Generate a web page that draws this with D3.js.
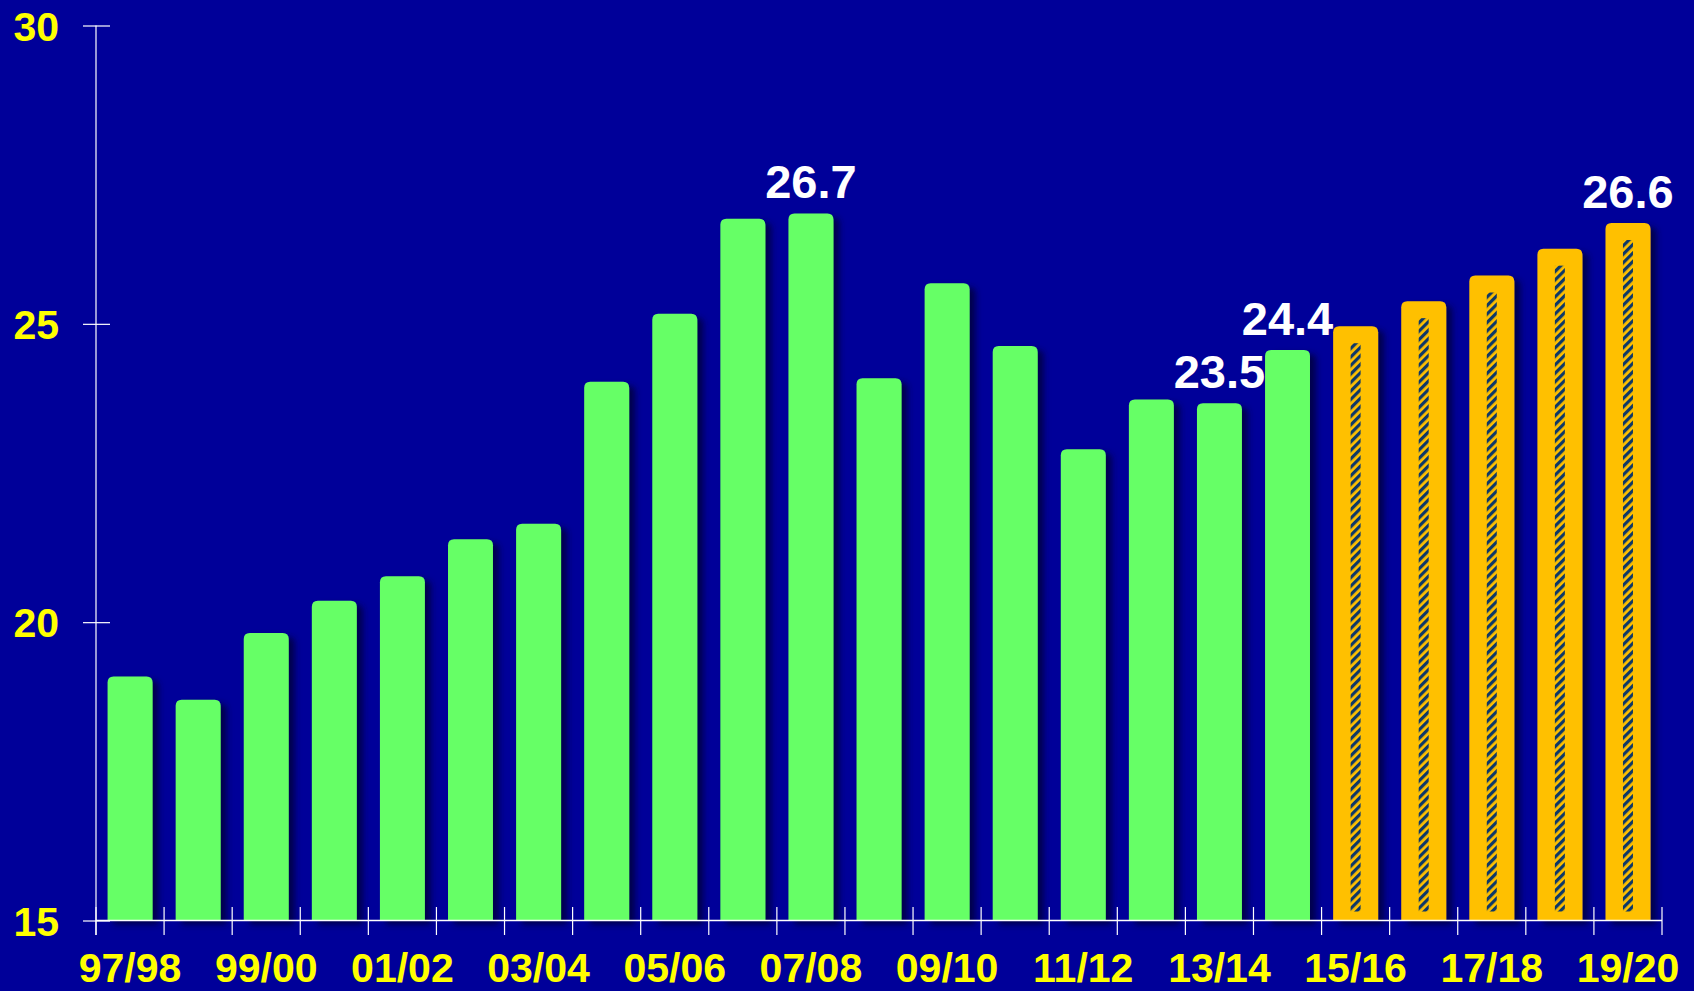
<!DOCTYPE html>
<html>
<head>
<meta charset="utf-8">
<script src="https://cdn.jsdelivr.net/npm/d3@7"></script>
<style>
  html, body { margin: 0; padding: 0; background: #000099; }
  svg { display: block; }
</style>
</head>
<body>
<svg id="chart" width="1694" height="991"></svg>
<script>
// ---- data ----
const categories = ["97/98","98/99","99/00","00/01","01/02","02/03","03/04","04/05","05/06","06/07","07/08","08/09",
                    "09/10","10/11","11/12","12/13","13/14","14/15","15/16","16/17","17/18","18/19","19/20"];
const actualValues = [19.09, 18.70, 19.82, 20.36, 20.77, 21.39, 21.65, 24.03, 25.17, 26.76, 26.85, 24.09,
                      25.68, 24.63, 22.90, 23.73, 23.67, 24.56];
const projectedValues = [24.96, 25.38, 25.81, 26.26, 26.69];
const yTicks = [15, 20, 25, 30];
const xTickLabels = ["97/98","99/00","01/02","03/04","05/06","07/08","09/10","11/12","13/14","15/16","17/18","19/20"];
const labelCategories = ["07/08", "13/14", "14/15", "19/20"];
const labelTexts = ["26.7", "23.5", "24.4", "26.6"];

(function () {
// ---- layout ----
const svg = d3.select("#chart");
const W = 1694, H = 991;
const mLeft = 96, mRight = 1662, mTop = 25.5, mBottom = 920.5;
const font = "'Liberation Sans', Arial, sans-serif";

svg.append("rect").attr("width", W).attr("height", H).attr("fill", "#000099");

const x = d3.scaleBand().domain(categories).range([mLeft, mRight]).paddingInner(0.34).paddingOuter(0.17);
const y = d3.scaleLinear().domain([15, 30]).range([mBottom, mTop]);

const bars = categories.map((c, i) => ({
  cat: c,
  value: i < actualValues.length ? actualValues[i] : projectedValues[i - actualValues.length],
  projected: i >= actualValues.length
}));

const defs = svg.append("defs");
const f = defs.append("filter").attr("id", "shadow").attr("x", "-30%").attr("y", "-10%").attr("width", "180%").attr("height", "130%");
f.append("feDropShadow").attr("dx", 6).attr("dy", 4).attr("stdDeviation", 3)
  .attr("flood-color", "#000033").attr("flood-opacity", 0.75);

const pat = defs.append("pattern").attr("id", "hatch").attr("patternUnits", "userSpaceOnUse")
  .attr("width", 6).attr("height", 6).attr("patternTransform", "rotate(45)");
pat.append("rect").attr("width", 6).attr("height", 6).attr("fill", "#FFC000");
pat.append("rect").attr("width", 3.2).attr("height", 6).attr("fill", "#0E3868");

function topRounded(x0, y0, w, h, r) {
  r = Math.min(r, w / 2, h);
  return `M${x0},${y0 + h}V${y0 + r}Q${x0},${y0} ${x0 + r},${y0}H${x0 + w - r}Q${x0 + w},${y0} ${x0 + w},${y0 + r}V${y0 + h}Z`;
}

const bw = x.bandwidth();
const gBars = svg.append("g");
gBars.selectAll("path.bar").data(bars).join("path")
  .attr("class", "bar")
  .attr("d", d => topRounded(x(d.cat), y(d.value), bw, mBottom - y(d.value), 6))
  .attr("fill", d => d.projected ? "#FFC000" : "#66FF66")
  .attr("filter", "url(#shadow)");

// hatch strips inside projected bars
const hw = 10;
gBars.selectAll("rect.hatch").data(bars.filter(d => d.projected)).join("rect")
  .attr("class", "hatch")
  .attr("x", d => x(d.cat) + bw / 2 - hw / 2)
  .attr("y", d => y(d.value) + 17)
  .attr("width", hw)
  .attr("height", d => mBottom - 9 - (y(d.value) + 17))
  .attr("fill", "url(#hatch)");

// ---- axes ----
const axisG = svg.append("g");
const yAxis = d3.axisLeft(y).tickValues(yTicks).tickSize(13).tickPadding(24).tickFormat(d3.format("d"));
const gy = axisG.append("g").attr("transform", `translate(${mLeft},0)`).call(yAxis);
gy.select(".domain").remove();
gy.selectAll(".tick line").attr("x1", 14).attr("stroke", "#ffffff").attr("stroke-width", 1.2);
gy.selectAll(".tick text").attr("fill", "#FFFF00").attr("font-family", font)
  .attr("font-weight", "bold").attr("font-size", 41).attr("dy", "0.36em");
axisG.append("line").attr("x1", mLeft).attr("x2", mLeft).attr("y1", mTop).attr("y2", mBottom + 14.5)
  .attr("stroke", "#ffffff").attr("stroke-width", 1.2);

axisG.append("line").attr("x1", mLeft).attr("x2", mRight).attr("y1", mBottom).attr("y2", mBottom)
  .attr("stroke", "#ffffff").attr("stroke-width", 1.5);
const step = x.step();
const boundaries = categories.map(c => x(c) - step * x.paddingInner() / 2).concat([mRight]);
axisG.selectAll("line.xtick").data(boundaries).join("line")
  .attr("class", "xtick")
  .attr("x1", d => d).attr("x2", d => d)
  .attr("y1", mBottom - 13.5).attr("y2", mBottom + 14.5)
  .attr("stroke", "#ffffff").attr("stroke-width", 1.2);
axisG.selectAll("text.xlabel").data(xTickLabels).join("text")
  .attr("class", "xlabel")
  .attr("x", d => x(d) + bw / 2)
  .attr("y", 982)
  .attr("text-anchor", "middle")
  .attr("fill", "#FFFF00").attr("font-family", font).attr("font-weight", "bold").attr("font-size", 41)
  .text(d => d);

// ---- value labels ----
svg.append("g").selectAll("text").data(labelCategories).join("text")
  .attr("x", d => x(d) + bw / 2)
  .attr("y", d => y(bars.find(b => b.cat === d).value) - 15)
  .attr("text-anchor", "middle")
  .attr("fill", "#ffffff").attr("font-family", font).attr("font-weight", "bold").attr("font-size", 47)
  .text((d, i) => labelTexts[i]);
})();
</script>
</body>
</html>
